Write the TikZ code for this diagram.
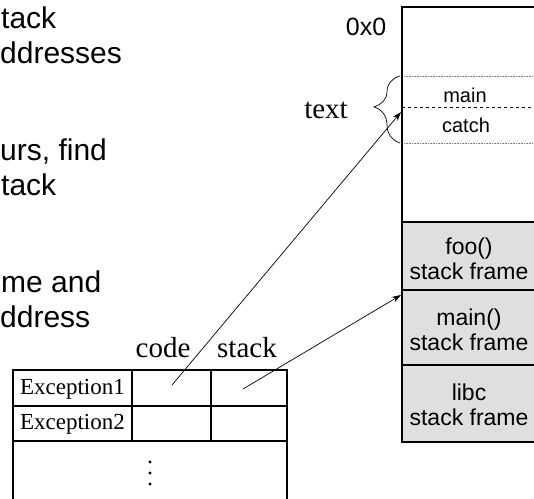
\documentclass[tikz,border=0pt]{standalone}
\usepackage{fontspec}
\setmainfont{Liberation Serif}
\setsansfont{Liberation Sans}
\usetikzlibrary{decorations.pathreplacing,arrows.meta}

\tikzset{
  slidetext/.style={font=\sffamily\fontsize{30}{35}\selectfont, inner sep=0pt, anchor=base west},
  serifbig/.style={font=\rmfamily\fontsize{29}{30}\selectfont, inner sep=0pt},
  seriftab/.style={font=\rmfamily\fontsize{23}{26}\selectfont, inner sep=0pt},
  smalllbl/.style={font=\sffamily\fontsize{20}{22}\selectfont, inner sep=0pt},
  addrlbl/.style={font=\sffamily\fontsize{25}{26}\selectfont, inner sep=0pt},
  framebox/.style={draw=black, line width=1.4pt, fill=gray!25, minimum width=134pt, inner sep=0pt},
  frametxt/.style={align=center, inner sep=0pt, font=\sffamily\fontsize{23}{25}\selectfont},
  colline/.style={line width=1.3pt},
  tabline/.style={line width=1.1pt},
  sepdot/.style={densely dotted, line width=0.6pt, gray},
  ptr/.style={line width=0.7pt, -{Stealth[length=9pt, width=6pt]}},
}

\begin{document}
\begin{tikzpicture}[x=1pt, y=-1pt]
\useasboundingbox (0,0) rectangle (534,498);
\clip (0,0) rectangle (534,498);

% bullet text running in from the left edge
\node[slidetext] (b1) at (1,28) {tack};
\node[slidetext] (b2) at (0,63) {ddresses};
\node[slidetext] (b3) at (0,160) {urs, find};
\node[slidetext] (b4) at (1,195) {tack};
\node[slidetext] (b5) at (1,292) {me and};
\node[slidetext] (b6) at (0,327) {ddress};

% address space column
\draw[colline] (540,7) -- (402,7) -- (402,222);
\node[addrlbl] (zero) at (366,27) {0x0};

% text segment
\draw[sepdot] (404,76) -- (540,76);
\draw[sepdot] (404,143) -- (540,143);
\draw[dashed, line width=0.8pt] (402,107) -- (540,107);
\node[smalllbl] (mainlbl) at (465,95) {main};
\node[smalllbl] (catchlbl) at (466,125) {catch};
\coordinate (braceA) at (400,143);
\coordinate (braceB) at (400,76);
\draw[line width=0.7pt, decorate, decoration={brace, amplitude=26pt, aspect=0.54}] (braceA) -- (braceB);
\node[serifbig] (textlbl) at (326,110) {text};

% stack frames
\node[framebox, minimum height=68pt] (foo) at (469,256) {};
\node[framebox, minimum height=75pt] (mainf) at (469,327.5) {};
\node[framebox, minimum height=77pt] (libc) at (469,403.5) {};
\node[frametxt] (footxt) at (469,259) {foo()\\stack frame};
\node[frametxt] (maintxt) at (469,330) {main()\\stack frame};
\node[frametxt] (libctxt) at (469,405) {libc\\stack frame};

% exception table
\draw[tabline] (13,502) -- (13,370) -- (287,370) -- (287,502);
\draw[tabline] (13,406) -- (287,406);
\draw[tabline] (13,441) -- (287,441);
\draw[tabline] (132,370) -- (132,441);
\draw[tabline] (211,370) -- (211,441);
\node[seriftab] (ex1) at (72.5,389) {Exception1};
\node[seriftab] (ex2) at (72.5,424) {Exception2};
\node[serifbig] (codelbl) at (163,348) {code};
\node[serifbig] (stacklbl) at (247,348) {stack};
\fill (150,462) circle (1.6pt) (150,473) circle (1.6pt) (150,484) circle (1.6pt);

% pointers from the first table row
\coordinate (codeptr) at (172,385);
\coordinate (texthit) at (401,112);
\coordinate (stackptr) at (243,389);
\coordinate (framehit) at (401,295);
\draw[ptr] (codeptr) -- (texthit);
\draw[ptr] (stackptr) -- (framehit);
\end{tikzpicture}
\end{document}
